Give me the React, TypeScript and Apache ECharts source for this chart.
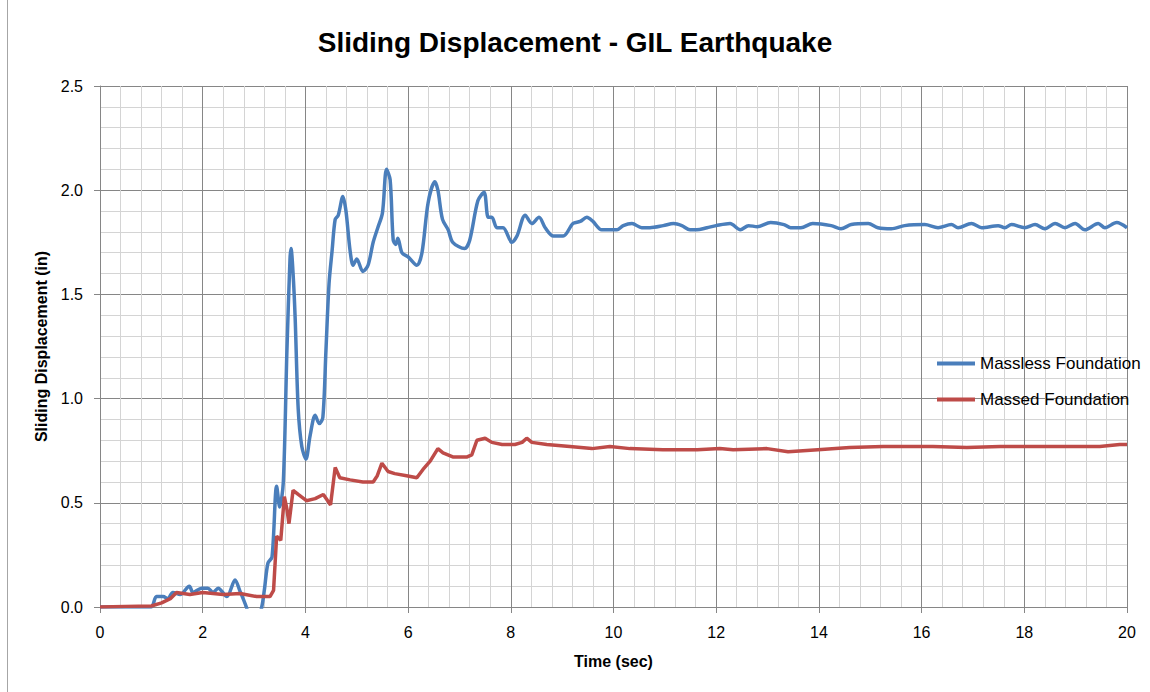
import React, { useEffect, useRef } from "react";
import * as echarts from "echarts";

const titleText = "Sliding Displacement - GIL Earthquake";
const xAxisName = "Time (sec)";
const yAxisName = "Sliding Displacement (in)";
const seriesNames = ["Massless Foundation", "Massed Foundation"];

// [time (sec), displacement (in)]
const masslessData: number[][] = [
  [0, 0], [0.5, 0], [1.0, 0], [1.03, 0.01], [1.1, 0.05], [1.23, 0.05], [1.32, 0.04], [1.42, 0.07],
  [1.56, 0.06], [1.74, 0.1], [1.81, 0.07], [1.98, 0.09], [2.1, 0.09], [2.2, 0.07], [2.3, 0.09],
  [2.47, 0.05], [2.63, 0.13], [2.72, 0.08], [2.85, 0.0], [2.95, -0.08], [3.05, -0.08], [3.15, 0.0],
  [3.2, 0.08], [3.27, 0.21], [3.35, 0.24], [3.44, 0.58], [3.5, 0.48], [3.57, 0.6], [3.64, 1.23],
  [3.7, 1.67], [3.72, 1.72], [3.76, 1.6], [3.8, 1.39], [3.86, 0.95], [3.93, 0.77], [4.01, 0.71],
  [4.09, 0.82], [4.19, 0.92], [4.27, 0.88], [4.34, 0.91], [4.4, 1.23], [4.46, 1.55], [4.52, 1.71],
  [4.58, 1.86], [4.64, 1.88], [4.73, 1.97], [4.79, 1.9], [4.87, 1.71], [4.93, 1.64], [5.0, 1.67],
  [5.12, 1.61], [5.22, 1.64], [5.32, 1.75], [5.41, 1.82], [5.5, 1.89], [5.58, 2.1], [5.65, 2.05],
  [5.71, 1.76], [5.76, 1.74], [5.8, 1.77], [5.88, 1.7], [6.0, 1.68], [6.17, 1.64], [6.27, 1.7],
  [6.39, 1.94], [6.52, 2.04], [6.58, 2.0], [6.67, 1.86], [6.78, 1.81], [6.87, 1.75], [7.1, 1.72],
  [7.2, 1.76], [7.36, 1.95], [7.48, 1.99], [7.56, 1.87], [7.63, 1.87], [7.73, 1.82], [7.85, 1.82],
  [8.02, 1.75], [8.12, 1.78], [8.28, 1.88], [8.41, 1.84], [8.55, 1.87], [8.67, 1.82], [8.83, 1.78],
  [9.02, 1.78], [9.21, 1.84], [9.35, 1.85], [9.48, 1.87], [9.6, 1.85], [9.77, 1.81], [10.07, 1.81],
  [10.19, 1.83], [10.36, 1.84], [10.55, 1.82], [10.71, 1.82], [10.97, 1.83], [11.17, 1.84],
  [11.33, 1.83], [11.49, 1.81], [11.62, 1.81], [11.82, 1.82], [12.0, 1.83], [12.27, 1.84],
  [12.47, 1.81], [12.63, 1.83], [12.8, 1.825], [13.06, 1.845], [13.32, 1.835], [13.45, 1.82],
  [13.65, 1.82], [13.88, 1.84], [14.24, 1.83], [14.43, 1.815], [14.63, 1.835], [14.96, 1.84],
  [15.15, 1.82], [15.41, 1.815], [15.67, 1.83], [16.06, 1.835], [16.32, 1.82], [16.58, 1.835],
  [16.71, 1.82], [16.97, 1.84], [17.17, 1.82], [17.49, 1.83], [17.62, 1.82], [17.75, 1.835],
  [18.01, 1.82], [18.21, 1.835], [18.4, 1.815], [18.6, 1.84], [18.79, 1.82], [18.99, 1.84],
  [19.18, 1.81], [19.44, 1.84], [19.57, 1.82], [19.8, 1.845], [20.0, 1.82],
];

const massedData: number[][] = [
  [0, 0], [0.5, 0.003], [1.0, 0.005], [1.2, 0.02], [1.37, 0.04], [1.49, 0.07], [1.75, 0.06],
  [2.0, 0.07], [2.4, 0.06], [2.73, 0.065], [3.05, 0.05], [3.31, 0.05], [3.38, 0.08], [3.44, 0.34],
  [3.52, 0.32], [3.59, 0.53], [3.64, 0.47], [3.68, 0.4], [3.76, 0.56], [3.86, 0.54], [4.02, 0.51],
  [4.19, 0.52], [4.35, 0.54], [4.49, 0.49], [4.58, 0.67], [4.67, 0.62], [4.87, 0.61], [5.12, 0.6],
  [5.32, 0.6], [5.4, 0.63], [5.49, 0.69], [5.61, 0.65], [5.74, 0.64], [5.97, 0.63], [6.17, 0.62],
  [6.29, 0.66], [6.43, 0.7], [6.58, 0.76], [6.68, 0.74], [6.87, 0.72], [7.15, 0.72], [7.24, 0.73],
  [7.34, 0.8], [7.5, 0.81], [7.63, 0.79], [7.83, 0.78], [8.08, 0.78], [8.22, 0.79], [8.31, 0.81],
  [8.41, 0.79], [8.7, 0.78], [9.15, 0.77], [9.58, 0.76], [9.93, 0.77], [10.32, 0.76], [10.96, 0.755],
  [11.63, 0.755], [12.07, 0.76], [12.33, 0.755], [12.99, 0.76], [13.4, 0.745], [13.98, 0.755],
  [14.6, 0.765], [15.25, 0.77], [16.22, 0.77], [16.88, 0.765], [17.53, 0.77], [18.17, 0.77],
  [18.83, 0.77], [19.47, 0.77], [19.86, 0.78], [20, 0.78],
];

const FONT = "'Liberation Sans', Arial, sans-serif";

export default function App() {
  const ref = useRef<HTMLDivElement>(null);
  useEffect(() => {
    if (!ref.current) return;
    const chart = echarts.init(ref.current, undefined, { renderer: "svg" });
    const axisGray = "#868686";
    const minorGray = "#d4d4d4";
    chart.setOption({
      animation: false,
      backgroundColor: "#ffffff",
      textStyle: { fontFamily: FONT },
      title: {
        text: titleText,
        left: "center",
        top: 23,
        textStyle: { fontFamily: FONT, fontSize: 28, fontWeight: "bold", color: "#000" },
      },
      graphic: [
        { type: "line", shape: { x1: 7.5, y1: 0, x2: 7.5, y2: 692 }, style: { stroke: "#a6a6a6", lineWidth: 1 } },
      ],
      grid: { left: 100, right: 23, top: 86, bottom: 85, containLabel: false },
      legend: {
        orient: "vertical",
        left: 932,
        top: 350,
        itemWidth: 38,
        itemHeight: 4,
        itemGap: 19,
        icon: "rect",
        data: [
          { name: seriesNames[0], itemStyle: { color: "#4a7ebb" } },
          { name: seriesNames[1], itemStyle: { color: "#be4b48" } },
        ],
        itemStyle: { borderWidth: 0 },
        textStyle: { fontFamily: FONT, fontSize: 17, color: "#000" },
      },
      xAxis: {
        type: "value",
        min: 0,
        max: 20,
        interval: 2,
        name: xAxisName,
        nameLocation: "middle",
        nameGap: 46,
        nameTextStyle: { fontFamily: FONT, fontSize: 16, fontWeight: "bold", color: "#000" },
        axisLine: { show: true, onZero: false, lineStyle: { color: axisGray, width: 1 } },
        axisTick: { show: true, length: 6, lineStyle: { color: axisGray } },
        minorTick: { show: false, splitNumber: 5 },
        axisLabel: { margin: 17, fontSize: 16, color: "#000", fontFamily: FONT },
        splitLine: { show: true, lineStyle: { color: axisGray, width: 1 } },
        minorSplitLine: { show: true, lineStyle: { color: minorGray, width: 1 } },
      },
      yAxis: {
        type: "value",
        min: 0,
        max: 2.5,
        interval: 0.5,
        name: yAxisName,
        nameLocation: "middle",
        nameGap: 49,
        nameTextStyle: { fontFamily: FONT, fontSize: 16, fontWeight: "bold", color: "#000" },
        axisLine: { show: true, lineStyle: { color: axisGray, width: 1 } },
        axisTick: { show: true, length: 6, lineStyle: { color: axisGray } },
        minorTick: { show: false, splitNumber: 5 },
        axisLabel: {
          margin: 17,
          fontSize: 16,
          color: "#000",
          fontFamily: FONT,
          formatter: (v: number) => v.toFixed(1),
        },
        splitLine: { show: true, lineStyle: { color: axisGray, width: 1 } },
        minorSplitLine: { show: true, lineStyle: { color: minorGray, width: 1 } },
      },
      series: [
        {
          name: seriesNames[0],
          type: "line",
          data: masslessData,
          showSymbol: false,
          symbol: "none",
          smooth: 0.3,
          clip: true,
          lineStyle: { color: "#4a7ebb", width: 3.5 },
          itemStyle: { color: "#4a7ebb" },
          z: 3,
        },
        {
          name: seriesNames[1],
          type: "line",
          data: massedData,
          showSymbol: false,
          symbol: "none",
          clip: true,
          lineStyle: { color: "#be4b48", width: 3.5 },
          itemStyle: { color: "#be4b48" },
          z: 4,
        },
      ],
    });
    return () => chart.dispose();
  }, []);
  return (
    <div
      ref={ref}
      style={{ position: "absolute", left: 0, top: 0, width: 1150, height: 692, background: "#fff" }}
    />
  );
}
